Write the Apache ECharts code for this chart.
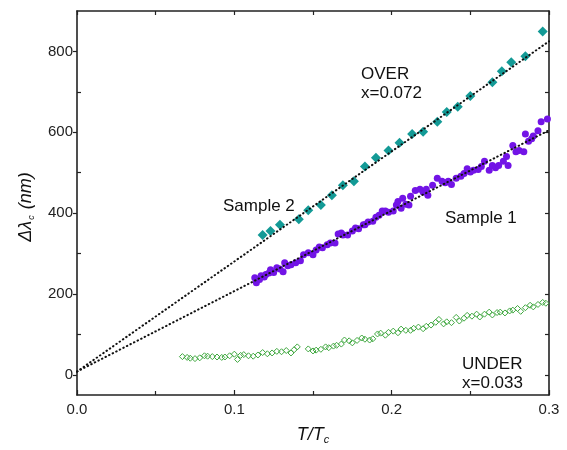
<!DOCTYPE html>
<html>
<head>
<meta charset="utf-8">
<script src="https://cdn.jsdelivr.net/npm/echarts@6/dist/echarts.min.js"></script>
<style>
  html, body { margin: 0; padding: 0; background: #fff; }
  #main { width: 567px; height: 450px; }
</style>
</head>
<body>
<div id="main"></div>
<script>
// values
const yTicks = [0, 200, 400, 600, 800];
const yMinorTicks = [100, 300, 500, 700];

// OVER x=0.072, Sample 2
const over = [
  [0.118, 346], [0.123, 356], [0.129, 371], [0.141, 385], [0.147, 407],
  [0.155, 420], [0.162, 444], [0.169, 469], [0.176, 479], [0.183, 515],
  [0.190, 537], [0.198, 555], [0.205, 574], [0.213, 596], [0.220, 601],
  [0.229, 626], [0.235, 650], [0.242, 663], [0.250, 690], [0.264, 724],
  [0.270, 751], [0.276, 773], [0.285, 788], [0.296, 849]
];

// Sample 1
const sample1 = [
  [0.113, 240], [0.114, 228], [0.116, 236], [0.117, 245], [0.119, 242],
  [0.120, 248], [0.122, 252], [0.123, 260], [0.125, 253], [0.127, 265],
  [0.129, 262], [0.131, 255], [0.132, 277], [0.134, 270], [0.136, 272],
  [0.139, 277], [0.142, 282], [0.144, 297], [0.147, 302], [0.150, 297],
  [0.152, 309], [0.154, 316], [0.156, 314], [0.159, 322], [0.161, 326],
  [0.164, 326], [0.166, 348], [0.168, 351], [0.169, 346], [0.172, 346],
  [0.175, 356], [0.177, 363], [0.179, 361], [0.182, 371], [0.183, 371],
  [0.185, 378], [0.188, 380], [0.190, 390], [0.192, 395], [0.194, 405],
  [0.196, 405], [0.198, 402], [0.201, 405], [0.203, 420], [0.204, 429],
  [0.206, 412], [0.207, 437], [0.209, 422], [0.211, 420], [0.212, 442],
  [0.215, 456], [0.218, 459], [0.220, 452], [0.222, 459], [0.223, 444],
  [0.226, 469], [0.229, 486], [0.232, 479], [0.234, 475], [0.236, 479],
  [0.238, 471], [0.241, 486], [0.244, 491], [0.246, 498], [0.248, 510],
  [0.250, 502], [0.252, 506], [0.255, 508], [0.257, 515], [0.259, 528],
  [0.262, 506], [0.264, 518], [0.266, 512], [0.268, 518], [0.271, 528],
  [0.273, 540], [0.274, 518], [0.277, 567], [0.279, 552], [0.281, 555],
  [0.284, 552], [0.285, 596], [0.287, 578], [0.289, 584], [0.290, 591],
  [0.293, 604], [0.295, 626], [0.299, 633]
];

// UNDER x=0.033
const under = [
  [0.067, 45], [0.070, 43], [0.072, 41], [0.075, 40], [0.078, 42],
  [0.081, 47], [0.083, 46], [0.086, 45], [0.089, 44], [0.092, 43],
  [0.094, 44], [0.097, 47], [0.100, 51], [0.102, 38], [0.104, 48],
  [0.106, 50], [0.109, 47], [0.112, 46], [0.115, 49], [0.118, 55],
  [0.121, 52], [0.124, 54], [0.127, 58], [0.130, 57], [0.133, 60],
  [0.136, 54], [0.138, 62], [0.140, 69],
  [0.147, 64], [0.150, 59], [0.152, 61], [0.155, 63], [0.158, 69],
  [0.160, 67], [0.163, 71], [0.165, 73], [0.168, 76], [0.170, 86],
  [0.173, 84], [0.175, 79], [0.178, 85], [0.181, 91], [0.183, 88],
  [0.186, 86], [0.188, 89], [0.191, 101], [0.193, 103], [0.196, 98],
  [0.198, 105], [0.201, 108], [0.204, 104], [0.206, 113], [0.209, 110],
  [0.212, 110], [0.214, 115], [0.217, 118], [0.220, 114], [0.222, 120],
  [0.225, 123], [0.228, 130], [0.230, 137], [0.233, 126], [0.235, 131],
  [0.238, 129], [0.241, 142], [0.243, 133], [0.246, 140], [0.248, 147],
  [0.251, 145], [0.254, 150], [0.256, 143], [0.259, 150], [0.262, 155],
  [0.264, 148], [0.267, 154], [0.269, 155], [0.272, 153], [0.275, 158],
  [0.277, 160], [0.280, 164], [0.282, 157], [0.285, 166], [0.288, 172],
  [0.290, 168], [0.293, 174], [0.296, 179], [0.298, 177]
];

// linear fits through the origin region
const fitOver = [[0, 8], [0.3, 825]];
const fitSample1 = [[0, 8], [0.3, 605]];

const font = "'Liberation Sans', Arial, sans-serif";
const ink = "#222";

let myChart = echarts.init(document.getElementById("main"));

function note(text, x, y) {
  return {
    type: "text",
    left: x,
    top: y,
    style: { text: text, font: "17px " + font, fill: "#111", textVerticalAlign: "middle" }
  };
}

let option = {
  animation: false,
  backgroundColor: "#fff",
  grid: { left: 77, right: 18, top: 11, bottom: 51 },
  xAxis: [
    {
      type: "value",
      min: 0,
      max: 0.3,
      interval: 0.1,
      position: "bottom",
      name: "T/T{s|c}",
      nameLocation: "middle",
      nameGap: 30,
      nameTextStyle: {
        fontFamily: font,
        fontSize: 18,
        fontStyle: "italic",
        color: "#111",
        rich: { s: { fontFamily: font, fontSize: 11, fontStyle: "italic", color: "#111", padding: [9, 0, 0, 0] } }
      },
      axisLine: { onZero: false, lineStyle: { color: ink, width: 1.6 } },
      axisTick: { inside: true, length: 5, lineStyle: { color: ink, width: 1.2 } },
      minorTick: { show: true, splitNumber: 2, length: 4, lineStyle: { color: ink, width: 1.2 } },
      axisLabel: {
        margin: 7,
        fontFamily: font,
        fontSize: 15,
        color: ink,
        formatter: function (v) { return v.toFixed(1); }
      },
      splitLine: { show: false }
    },
    {
      type: "value",
      min: 0,
      max: 0.3,
      interval: 0.05,
      position: "top",
      axisLine: { onZero: false, lineStyle: { color: ink, width: 1.6 } },
      axisTick: { inside: true, length: 4, lineStyle: { color: ink, width: 1.2 } },
      axisLabel: { show: false },
      splitLine: { show: false }
    }
  ],
  yAxis: [
    {
      type: "value",
      min: -50,
      max: 900,
      position: "left",
      name: "{a|Δλ}{b|c}{a| (nm)}",
      nameLocation: "middle",
      nameGap: 41,
      nameTextStyle: {
        padding: [0, 8, 0, 0],
        rich: {
          a: { fontFamily: font, fontSize: 18, fontStyle: "italic", color: "#111" },
          b: { fontFamily: font, fontSize: 9, fontStyle: "italic", color: "#111", padding: [12, 1, 0, 1] }
        }
      },
      axisLine: { onZero: false, lineStyle: { color: ink, width: 1.6 } },
      axisTick: { customValues: yTicks, length: 4, lineStyle: { color: ink, width: 1.2 } },
      axisLabel: { customValues: yTicks, margin: 4, fontFamily: font, fontSize: 15, color: ink },
      splitLine: { show: false }
    },
    {
      type: "value",
      min: -50,
      max: 900,
      position: "left",
      axisLine: { show: false, onZero: false },
      axisTick: { customValues: yMinorTicks, inside: true, length: 4, lineStyle: { color: ink, width: 1.2 } },
      axisLabel: { show: false },
      splitLine: { show: false }
    },
    {
      type: "value",
      min: -50,
      max: 900,
      position: "right",
      axisLine: { show: true, onZero: false, lineStyle: { color: ink, width: 1.6 } },
      axisTick: { customValues: yTicks.concat(yMinorTicks), inside: true, length: 4, lineStyle: { color: ink, width: 1.2 } },
      axisLabel: { show: false },
      splitLine: { show: false }
    }
  ],
  series: [
    {
      type: "scatter",
      name: "UNDER",
      data: under,
      symbol: "diamond",
      symbolSize: 6,
      itemStyle: { color: "rgba(0,0,0,0)", borderColor: "#3fa83f", borderWidth: 1, opacity: 1 },
      z: 2
    },
    {
      type: "scatter",
      name: "Sample 1",
      data: sample1,
      symbol: "circle",
      symbolSize: 7,
      itemStyle: { color: "#7214e6", opacity: 1 },
      z: 2
    },
    {
      type: "scatter",
      name: "OVER",
      data: over,
      symbol: "diamond",
      symbolSize: 10,
      itemStyle: { color: "#139a96", opacity: 1 },
      z: 2
    },
    {
      type: "line",
      data: fitOver,
      symbol: "none",
      lineStyle: { color: "#111", width: 2, type: [0.5, 3.5], cap: "round" },
      z: 3
    },
    {
      type: "line",
      data: fitSample1,
      symbol: "none",
      lineStyle: { color: "#111", width: 2, type: [0.5, 3.5], cap: "round" },
      z: 3
    }
  ],
  graphic: [
    note("OVER", 361, 66),
    note("x=0.072", 361, 85),
    note("Sample 2", 223, 198),
    note("Sample 1", 445, 210),
    note("UNDER", 462, 356),
    note("x=0.033", 462, 375)
  ]
};

if (option && typeof option === "object") myChart.setOption(option);
window.addEventListener("resize", function () {
  myChart.resize();
});
</script>
</body>
</html>
